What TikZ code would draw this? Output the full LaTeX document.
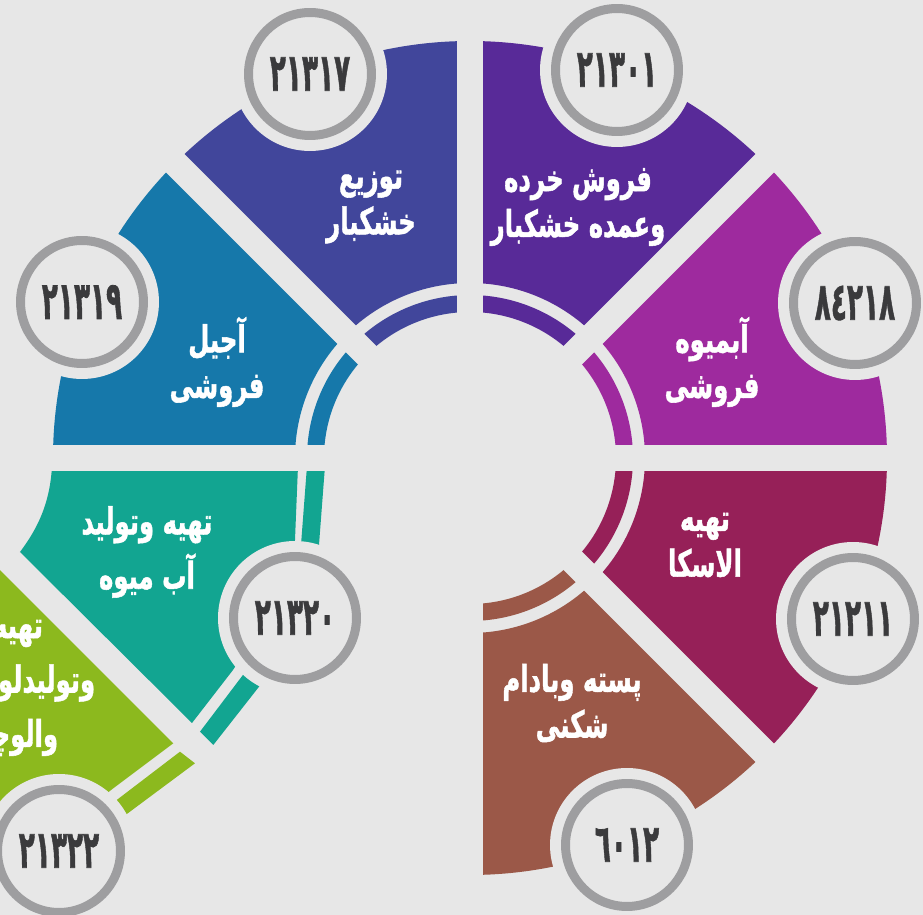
\documentclass[tikz,border=0pt]{standalone}
\usepackage{fontspec}
\usepackage{tikz}
\newfontfamily\arabicfont[Script=Arabic,BoldFeatures={FakeBold=1.5}]{DejaVu Sans}
\TeXXeTstate=1
\newcommand{\rtl}[1]{\beginR#1\endR}
\newcommand{\narrow}[1]{\scalebox{0.5}[1]{#1}}
\definecolor{bg}{RGB}{231,231,231}
\definecolor{ringgray}{RGB}{158,158,160}
\definecolor{numgray}{RGB}{58,58,60}
\definecolor{cpurple}{RGB}{88,42,152}
\definecolor{cmagenta}{RGB}{158,42,158}
\definecolor{ccrimson}{RGB}{150,32,88}
\definecolor{cbrown}{RGB}{155,88,72}
\definecolor{cgreen}{RGB}{140,185,30}
\definecolor{cteal}{RGB}{18,165,145}
\definecolor{cblue}{RGB}{22,120,170}
\definecolor{cindigo}{RGB}{65,70,155}
\tikzset{cut/.style={circle,fill=bg,minimum size=3.08cm,inner sep=0pt},
  num/.style={circle,draw=ringgray,line width=0.18cm,minimum size=2.46cm,inner sep=0pt,text=numgray,font=\arabicfont\bfseries\fontsize{30}{30}\selectfont},
  lbl/.style={text=white,align=center,xscale=0.66,font=\arabicfont\bfseries\fontsize{21}{26}\selectfont},
  widelbl/.style={lbl,font=\arabicfont\bfseries\fontsize{21}{31}\selectfont},
  gap/.style={draw=bg,line width=0.52cm}}

\begin{document}
\begin{tikzpicture}[x=0.02cm,y=0.02cm]
        \useasboundingbox (-470,-457) rectangle (453,458);
        \fill[bg] (-470,-457) rectangle (453,458);

        \fill[cmagenta] (0:175) arc[start angle=0,end angle=45,radius=175] -- (45:417) arc[start angle=45,end angle=0,radius=417] -- cycle
            (0:146) arc[start angle=0,end angle=45,radius=146] -- (45:163) arc[start angle=45,end angle=0,radius=163] -- cycle;
        \fill[cpurple] (45:175) arc[start angle=45,end angle=90,radius=175] -- (90:417) arc[start angle=90,end angle=45,radius=417] -- cycle
            (45:146) arc[start angle=45,end angle=90,radius=146] -- (90:163) arc[start angle=90,end angle=45,radius=163] -- cycle;
        \fill[cindigo] (90:175) arc[start angle=90,end angle=135,radius=175] -- (135:417) arc[start angle=135,end angle=90,radius=417] -- cycle
            (90:146) arc[start angle=90,end angle=135,radius=146] -- (135:163) arc[start angle=135,end angle=90,radius=163] -- cycle;
        \fill[cblue] (135:175) arc[start angle=135,end angle=180,radius=175] -- (180:417) arc[start angle=180,end angle=135,radius=417] -- cycle
            (135:146) arc[start angle=135,end angle=180,radius=146] -- (180:163) arc[start angle=180,end angle=135,radius=163] -- cycle;
        \fill[cbrown] (270:175) arc[start angle=270,end angle=315,radius=175] -- (315:417) arc[start angle=315,end angle=270,radius=417] -- cycle
            (270:146) arc[start angle=270,end angle=315,radius=146] -- (315:163) arc[start angle=315,end angle=270,radius=163] -- cycle;
        \fill[ccrimson] (315:175) arc[start angle=315,end angle=360,radius=175] -- (360:417) arc[start angle=360,end angle=315,radius=417] -- cycle
            (315:146) arc[start angle=315,end angle=360,radius=146] -- (360:163) arc[start angle=360,end angle=315,radius=163] -- cycle;

        \fill[cteal] (-418,-8) -- (-172,-8) -- (-175,-82) -- (-190,-140) -- (-237,-212) -- (-278,-265) -- (-450,-94) .. controls (-432,-70) and (-420,-45) .. (-418,-8) -- cycle
            (-163,-8) -- (-145,-8) -- (-152,-100) -- (-170,-100) -- cycle
            (-218,-205) -- (-201,-216) -- (-256.7,-287) -- (-270,-273.7) -- cycle;
        \fill[cgreen] (-480,-102) -- (-296.7,-285.3) -- (-356.7,-330.3) -- (-420,-380) -- (-480,-380) -- cycle
            (-290,-293.7) -- (-275,-305.3) -- (-362,-370) -- (-369,-354) -- cycle;

        \draw[gap] (0,0) -- (0:440);
        \draw[gap] (0,0) -- (45:440);
        \draw[gap] (0,0) -- (90:440);
        \draw[gap] (0,0) -- (135:440);
        \draw[gap] (0,0) -- (180:480);
        \draw[gap] (0,0) -- (270:440);
        \draw[gap] (0,0) -- (315:440);

        \node[cut] (a) at (147,388) {};
        \node[cut] (b) at (385,155) {};
        \node[cut] (c) at (383,-161) {};
        \node[cut] (d) at (157,-387) {};
        \node[cut] (e) at (-411,-393) {};
        \node[cut] (f) at (-175,-160) {};
        \node[cut] (g) at (-388,156) {};
        \node[cut] (h) at (-160,384) {};

        \node[num] (na) at (a) {\narrow{٢١٣٠١}};
        \node[num] (nb) at (b) {\narrow{٨٤٢١٨}};
        \node[num] (nc) at (c) {\narrow{٢١٢١١}};
        \node[num] (nd) at (d) {\narrow{٦٠١٢}};
        \node[num] (ne) at (e) {\narrow{٢١٣٢٢}};
        \node[num] (nf) at (f) {\narrow{٢١٣٢٠}};
        \node[num] (ng) at (g) {\narrow{٢١٣١٩}};
        \node[num] (nh) at (h) {\narrow{٢١٣١٧}};

        \node[lbl] (ta) at (108,251) {\rtl{فروش خرده}\\\rtl{وعمده خشکبار}};
        \node[lbl] (tb) at (242,96) {\rtl{آبمیوه}\\\rtl{فروشی}};
        \node[lbl] (tc) at (235,-87) {\rtl{تهیه}\\\rtl{الاسکا}};
        \node[lbl] (td) at (102,-245) {\rtl{پسته وبادام}\\\rtl{شکنی}};
        \node[widelbl] (te) at (-452,-230) {\rtl{تهیه}\\\rtl{وتولیدلواشک}\\\rtl{والوچه}};
        \node[widelbl] (tf) at (-323,-94) {\rtl{تهیه وتولید}\\\rtl{آب میوه}};
        \node[lbl] (tg) at (-253,96) {\rtl{آجیل}\\\rtl{فروشی}};
        \node[lbl] (th) at (-99,251) {\rtl{توزیع}\\\rtl{خشکبار}};
    \end{tikzpicture}
\end{document}
